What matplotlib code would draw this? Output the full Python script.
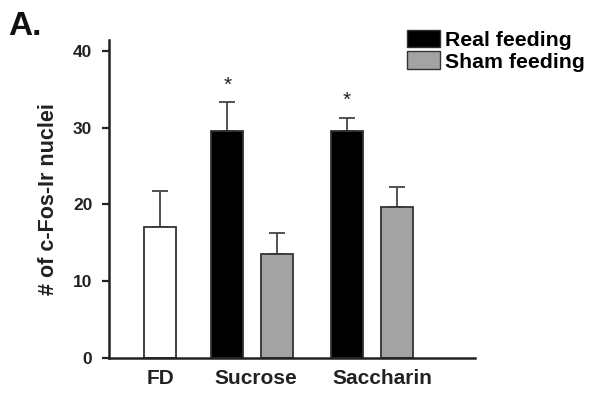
import matplotlib
matplotlib.use("Agg")
import matplotlib.pyplot as plt
from matplotlib.patches import Patch

groups = ["FD", "Sucrose", "Saccharin"]
bar_labels = ["FD", "Sucrose real", "Sucrose sham", "Saccharin real", "Saccharin sham"]
values = [17.1, 29.6, 13.6, 29.6, 19.6]
errors = [4.6, 3.7, 2.7, 1.7, 2.7]
kinds = ["none", "real", "sham", "real", "sham"]
sig = [False, True, False, True, False]
yticks = [0, 10, 20, 30, 40]

plt.rcParams['font.family'] = ['Liberation Sans', 'DejaVu Sans']
colors = {"none": "white", "real": "black", "sham": "#a3a3a3"}

fig = plt.figure(figsize=(5.97, 3.95), dpi=100)
ax = fig.add_axes([0.1826, 0.0937, 0.6131, 0.805])

pos = [1.6, 3.7, 5.25, 7.45, 9.0]
label_pos = [1.6, 4.6, 8.55]
w = 1.0
for p, v, e, k in zip(pos, values, errors, kinds):
    ax.bar(p, v, width=w, color=colors[k], edgecolor="#333333", linewidth=1.3, zorder=2)
    ax.errorbar(p, v, yerr=[[0], [e]], fmt="none", ecolor="#444444", elinewidth=1.3,
                capsize=6, capthick=1.3, zorder=1)
for p, v, e, s in zip(pos, values, errors, sig):
    if s:
        ax.text(p, v + e + 1.0, "*", ha="center", va="bottom", fontsize=15, color="#222222")

ax.set_xlim(0, 11.45)
ax.set_ylim(0, 41.4)
ax.set_yticks(yticks)
ax.set_yticklabels([str(t) for t in yticks], fontsize=12.5, fontweight="bold", color="#222222")
ax.set_xticks(label_pos)
ax.set_xticklabels(groups, fontsize=15, fontweight="bold", color="#222222")
ax.tick_params(axis="x", length=0, pad=8)
ax.tick_params(axis="y", length=5, width=1.6, color="#222222", pad=7)
for s in ["top", "right"]:
    ax.spines[s].set_visible(False)
for s in ["left", "bottom"]:
    ax.spines[s].set_linewidth(1.8)
    ax.spines[s].set_color("#222222")
ax.set_ylabel("# of c-Fos-Ir nuclei", fontsize=15.5, fontweight="bold", color="#222222")
ax.yaxis.set_label_coords(-0.137, 0.5)

handles = [Patch(facecolor="black", edgecolor="#333333", label="Real feeding"),
           Patch(facecolor="#a3a3a3", edgecolor="#333333", label="Sham feeding")]
fig.legend(handles=handles, loc="upper left", bbox_to_anchor=(0.682, 0.925), frameon=False,
           prop={"size": 15.3, "weight": "bold"}, handlelength=1.55, handleheight=0.9,
           handletextpad=0.25, labelspacing=0.08, borderaxespad=0, borderpad=0)

fig.text(0.013, 0.972, "A.", fontsize=24, fontweight="bold", va="top", ha="left", color="#111111")

fig.savefig("out.png", dpi=100)
